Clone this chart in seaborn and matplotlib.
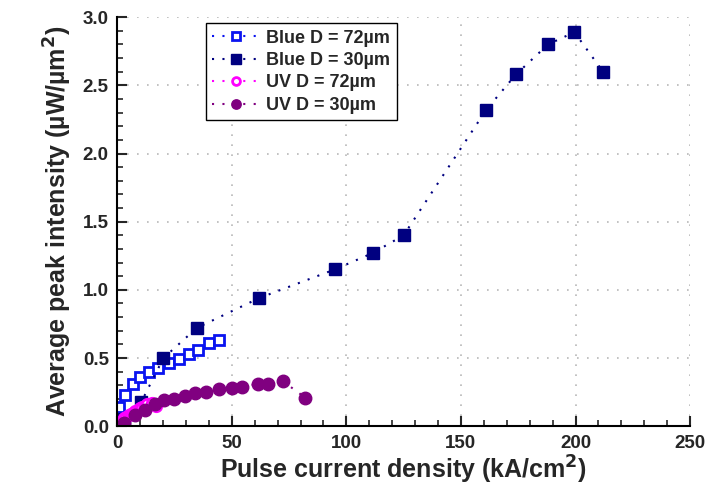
import numpy as np
import pandas as pd
import matplotlib
matplotlib.use("Agg")
import matplotlib.pyplot as plt
from matplotlib.ticker import MultipleLocator
import seaborn as sns

# ── Data ────────────────────────────────────────────────────────────────────
blue72_x = [0.8, 3.5, 6.7, 10.1, 13.8, 18.0, 22.7, 27.0, 31.3, 35.3, 40.1, 44.6]
blue72_y = [0.14, 0.23, 0.31, 0.36, 0.40, 0.43, 0.46, 0.49, 0.53, 0.56, 0.61, 0.63]

blue30_x = [3.0, 10.6, 20.2, 34.7, 62.0, 95.0, 111.5, 125.0, 161.0, 174.0, 188.0, 199.5, 212.0]
blue30_y = [0.05, 0.18, 0.50, 0.72, 0.94, 1.15, 1.27, 1.40, 2.32, 2.58, 2.80, 2.89, 2.60]

uv72_x = [1, 2, 3, 4, 5, 6, 7, 8, 9, 10, 11, 12, 13, 15.4, 17.0]
uv72_y = [0.02, 0.04, 0.06, 0.07, 0.08, 0.09, 0.10, 0.11, 0.12, 0.13, 0.14, 0.15, 0.16, 0.17, 0.15]

uv30_x = [3.0, 7.9, 12.0, 16.5, 20.6, 24.6, 29.6, 33.9, 38.7, 44.6, 49.9, 54.6, 61.3, 66.0, 72.3, 82.0]
uv30_y = [0.02, 0.08, 0.12, 0.16, 0.19, 0.20, 0.22, 0.24, 0.25, 0.27, 0.28, 0.29, 0.31, 0.31, 0.33, 0.21]

# ── Style ───────────────────────────────────────────────────────────────────
sns.set_theme(style="white")
plt.rcParams["font.family"] = ["Liberation Sans", "DejaVu Sans"]
plt.rcParams["font.weight"] = "bold"
plt.rcParams["mathtext.default"] = "bf"

fig = plt.figure(figsize=(7.1, 4.91), dpi=100)
ax = fig.add_axes([0.165, 0.132, 0.807, 0.833])

dots = (0, (1, 4))
series = [
    (blue72_x, blue72_y, "Blue D = 72\u00b5m", "s", "#0a14f0", "white", 7, 2.0),
    (blue30_x, blue30_y, "Blue D = 30\u00b5m", "s", "#000080", "#000080", 9, 1.0),
    (uv72_x, uv72_y, "UV D = 72\u00b5m", "o", "#ff00ff", "white", 7.5, 2.0),
    (uv30_x, uv30_y, "UV D = 30\u00b5m", "o", "#800080", "#800080", 9, 1.0),
]
for xs, ys, lab, mk, col, face, ms, mew in series:
    sns.lineplot(x=xs, y=ys, ax=ax, sort=False, estimator=None, label=lab,
                 color=col, linestyle=dots, linewidth=1.5, marker=mk,
                 markersize=ms, markerfacecolor=face, markeredgecolor=col,
                 markeredgewidth=mew, clip_on=True)

ax.set_xlim(0, 250)
ax.set_ylim(0, 3.0)
ax.xaxis.set_major_locator(MultipleLocator(50))
ax.xaxis.set_minor_locator(MultipleLocator(10))
ax.yaxis.set_major_locator(MultipleLocator(0.5))
ax.yaxis.set_minor_locator(MultipleLocator(0.1))
ax.yaxis.set_major_formatter(matplotlib.ticker.FormatStrFormatter("%.1f"))

ax.grid(True, which="major", color="#b8b8b8", linestyle=(0, (1, 5)), linewidth=1.2)
for s in ["top", "right"]:
    ax.spines[s].set_visible(False)
for s in ["left", "bottom"]:
    ax.spines[s].set_color("black")
    ax.spines[s].set_linewidth(1.5)

ax.tick_params(which="major", direction="in", length=7, width=1.5, labelsize=13.5,
               left=True, bottom=True, pad=6)
ax.tick_params(which="minor", direction="in", length=4, width=1.2,
               left=True, bottom=True)
for t in ax.get_xticklabels() + ax.get_yticklabels():
    t.set_fontweight("bold")

ax.set_xlabel("Pulse current density (kA/cm$^{2}$)", fontsize=18,
              fontweight="bold", labelpad=2)
ax.set_ylabel("Average peak intensity (\u00b5W/\u00b5m$^{2}$)", fontsize=18,
              fontweight="bold", labelpad=6)

leg = ax.legend(loc="upper left", bbox_to_anchor=(0.155, 0.985), frameon=True,
                fancybox=False, edgecolor="black", framealpha=1,
                prop={"weight": "bold", "size": 13}, handlelength=2.6,
                labelspacing=0.3, borderpad=0.35, handletextpad=0.4,
                markerscale=0.75, borderaxespad=0)
leg.get_frame().set_linewidth(1.0)

fig.savefig("out.png", dpi=100)
